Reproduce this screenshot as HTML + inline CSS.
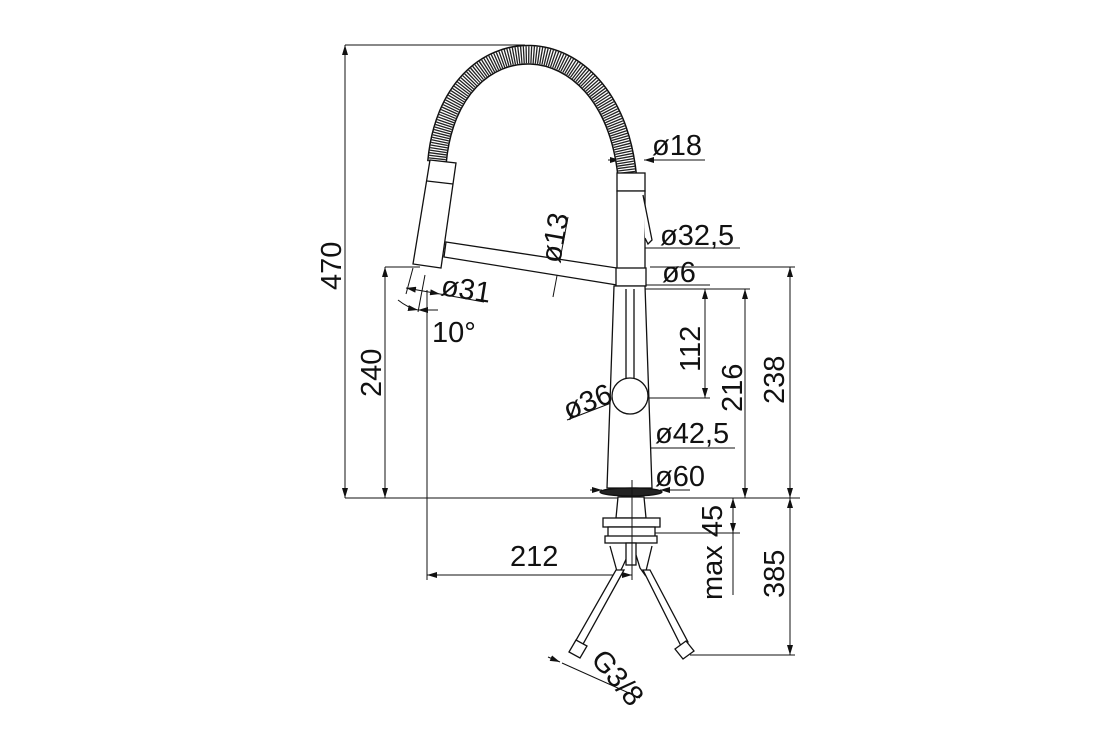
<!DOCTYPE html>
<html><head><meta charset="utf-8"><style>
html,body{margin:0;padding:0;background:#fff;}
svg{display:block;}
text{font-family:"Liberation Sans",sans-serif;font-size:29px;fill:#111;}
</style></head><body>
<svg width="1100" height="750" viewBox="0 0 1100 750" xmlns="http://www.w3.org/2000/svg">
<defs>
<marker id="a" markerWidth="10" markerHeight="6" refX="10" refY="3" orient="auto" markerUnits="userSpaceOnUse"><path d="M0,0 L10,3 L0,6 z" fill="#111"/></marker>
<marker id="b" markerWidth="10" markerHeight="6" refX="0" refY="3" orient="auto" markerUnits="userSpaceOnUse"><path d="M10,0 L0,3 L10,6 z" fill="#111"/></marker>
</defs>
<g stroke="#111" stroke-width="1" fill="none">
<line x1="345" y1="45" x2="525" y2="45"/>
<line x1="345" y1="498" x2="800" y2="498"/>
<line x1="385" y1="267" x2="420" y2="267"/>
<line x1="650" y1="267" x2="795" y2="267"/>
<line x1="640" y1="289" x2="750" y2="289"/>
<line x1="640" y1="398" x2="710" y2="398"/>
<line x1="655" y1="533" x2="740" y2="533"/>
<line x1="690" y1="655" x2="795" y2="655"/>
<line x1="427" y1="290" x2="427" y2="580"/>
<line x1="632" y1="500" x2="632" y2="580"/>
<line x1="345" y1="45" x2="345" y2="498" marker-start="url(#b)" marker-end="url(#a)"/>
<line x1="385" y1="267" x2="385" y2="498" marker-start="url(#b)" marker-end="url(#a)"/>
<line x1="790" y1="267" x2="790" y2="498" marker-start="url(#b)" marker-end="url(#a)"/>
<line x1="745" y1="289" x2="745" y2="498" marker-start="url(#b)" marker-end="url(#a)"/>
<line x1="705" y1="289" x2="705" y2="398" marker-start="url(#b)" marker-end="url(#a)"/>
<line x1="733" y1="498" x2="733" y2="533" marker-start="url(#b)" marker-end="url(#a)"/>
<line x1="733" y1="533" x2="733" y2="595"/>
<line x1="790" y1="498" x2="790" y2="655" marker-start="url(#b)" marker-end="url(#a)"/>
<line x1="427" y1="575" x2="632" y2="575" marker-start="url(#b)" marker-end="url(#a)"/>
<line x1="608" y1="160" x2="620" y2="160" marker-end="url(#a)"/>
<line x1="644" y1="160" x2="705" y2="160" marker-start="url(#b)"/>
<line x1="617" y1="248" x2="645" y2="248" marker-start="url(#b)" marker-end="url(#a)"/>
<line x1="645" y1="248" x2="740" y2="248"/>
<line x1="625" y1="285" x2="645" y2="285"/>
<line x1="640" y1="285" x2="710" y2="285"/>
<line x1="610" y1="448" x2="650" y2="448" marker-start="url(#b)" marker-end="url(#a)"/>
<line x1="650" y1="448" x2="735" y2="448"/>
<line x1="590" y1="490" x2="602" y2="490" marker-end="url(#a)"/>
<line x1="660" y1="490" x2="690" y2="490" marker-start="url(#b)"/>
<line x1="568" y1="217" x2="553" y2="297"/>
<line x1="406" y1="288" x2="440" y2="294" marker-start="url(#b)" marker-end="url(#a)"/>
<line x1="440" y1="294" x2="484" y2="302"/>
<line x1="413" y1="268" x2="406" y2="294"/>
<line x1="425" y1="275" x2="418" y2="312"/>
<path d="M398,300 Q408,308 418,310" marker-end="url(#a)"/>
<line x1="418" y1="310" x2="438" y2="310" marker-start="url(#b)"/>
<line x1="567" y1="420" x2="645" y2="390"/>
<line x1="612" y1="400" x2="643" y2="390" marker-start="url(#b)" marker-end="url(#a)"/>
<line x1="548" y1="657" x2="560" y2="662" marker-end="url(#a)"/>
<line x1="562" y1="663" x2="640" y2="698"/>
</g>
<path d="M437,162 C450,17 610,17 627,174" stroke="#111" stroke-width="20" fill="none"/>
<path d="M437,162 C450,17 610,17 627,174" stroke="#fff" stroke-width="17" fill="none"/>
<path d="M437,162 C450,17 610,17 627,174" stroke="#222" stroke-width="17" stroke-dasharray="1.3 1.2" fill="none"/>
<g stroke="#111" stroke-width="1.3" fill="#fff">
<polygon points="430,160 456,163 441,268 413,264"/>
<line x1="427" y1="181" x2="453" y2="184"/>
<polygon points="446,242 617,268 617,285 444,257"/>
<rect x="617" y="173" width="28" height="18"/>
<polygon points="617,191 645,191 645,270 617,270"/>
<polyline points="643,195 652,240 648,244 645,238"/>
<rect x="616" y="268" width="30" height="18"/>
<polygon points="614,286 645,286 652,488 607,488"/>
<line x1="626" y1="289" x2="626" y2="380"/>
<line x1="634" y1="289" x2="634" y2="380"/>
<circle cx="630" cy="396" r="18"/>
<ellipse cx="631" cy="492" rx="31" ry="4" fill="#222"/>
<polygon points="618,497 644,497 646,518 616,518"/>
<rect x="603" y="518" width="57" height="9"/>
<rect x="608" y="527" width="47" height="10"/>
<rect x="605" y="536" width="52" height="7"/>
<polyline points="610,546 618,575 622,568 628,555"/>
<polyline points="652,546 645,575 640,568 636,555"/>
<rect x="626" y="543" width="10" height="22"/>
<polygon points="616,570 624,570 582,646 575,642"/>
<polygon points="643,570 650,570 688,642 681,646"/>
<polygon points="569,652 576,640 587,646 580,658"/>
<polygon points="675,649 686,641 694,651 683,659"/>
</g>
<line x1="632" y1="480" x2="632" y2="578" stroke="#111" stroke-width="1"/>
<text x="652" y="155">ø18</text>
<text x="660" y="245">ø32,5</text>
<text x="662" y="282">ø6</text>
<text x="655" y="443">ø42,5</text>
<text x="655" y="486">ø60</text>
<text x="432" y="342">10°</text>
<text x="510" y="566">212</text>
<text transform="translate(440,295) rotate(9)">ø31</text>
<text transform="translate(560,264) rotate(-80)">ø13</text>
<text transform="translate(568,420) rotate(-22)">ø36</text>
<text transform="translate(590,660) rotate(50)">G3/8</text>
<text transform="translate(341,290) rotate(-90)">470</text>
<text transform="translate(381,397) rotate(-90)">240</text>
<text transform="translate(700,372) rotate(-90)">112</text>
<text transform="translate(742,412) rotate(-90)">216</text>
<text transform="translate(784,404) rotate(-90)">238</text>
<text transform="translate(722,600) rotate(-90)">max 45</text>
<text transform="translate(784,598) rotate(-90)">385</text>
</svg>
</body></html>
